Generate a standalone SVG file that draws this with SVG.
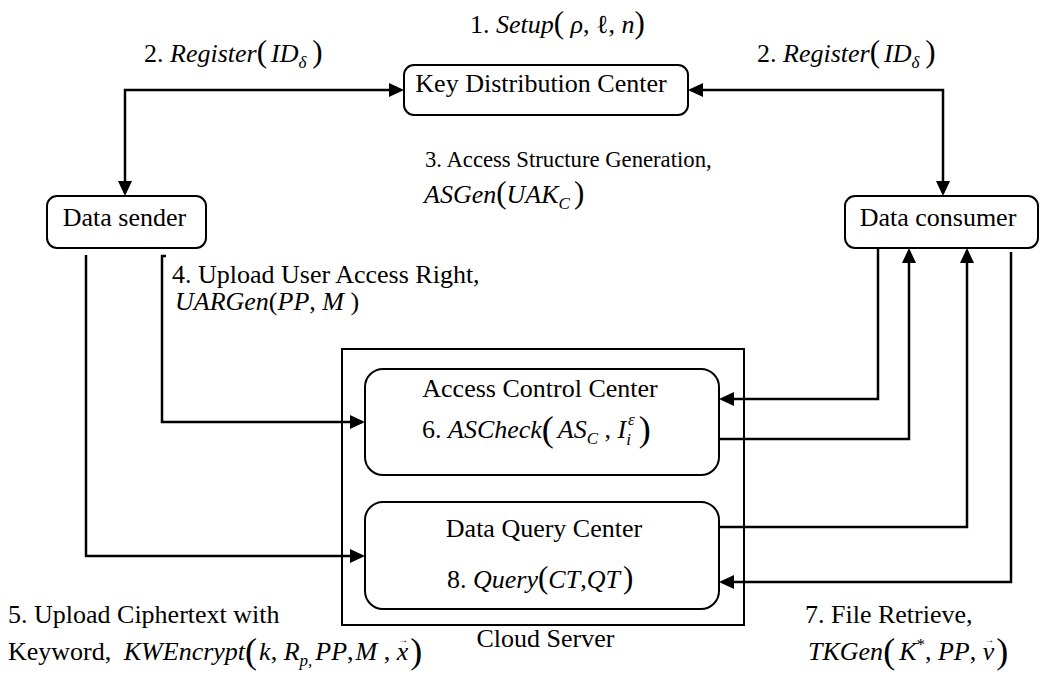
<svg xmlns="http://www.w3.org/2000/svg" width="1040" height="684" viewBox="0 0 1040 684">
<style>
.box{fill:#fff;stroke:#000;stroke-width:2}
.conn{fill:none;stroke:#000;stroke-width:2.5;stroke-linejoin:miter}
.t{font-family:"Liberation Serif","Times New Roman",serif;font-size:26px;fill:#000}
.i{font-style:italic}
.p{font-size:31px;font-style:normal}
.P{font-size:36px;font-style:normal}
.s{font-size:17px;font-style:italic}
.v{font-size:10px;font-style:normal}
</style>
<defs>
<marker id="ah" viewBox="0 0 15 14" refX="12" refY="7" markerWidth="15" markerHeight="14" markerUnits="userSpaceOnUse" orient="auto-start-reverse">
<path d="M0,0 L15,7 L0,14 Z" fill="#000"/>
</marker>
</defs>
<rect width="1040" height="684" fill="#fff"/>

<g id="cloud-server">
<rect x="342" y="349" width="402" height="276" fill="none" stroke="#000" stroke-width="2"/>
<text class="t" x="545.5" y="647" text-anchor="middle">Cloud Server</text>
</g>

<g id="connectors">
<path class="conn" d="M125,193 V90 H401" marker-start="url(#ah)" marker-end="url(#ah)"/>
<path class="conn" d="M943,193 V90 H691" marker-start="url(#ah)" marker-end="url(#ah)"/>
<path class="conn" d="M166,256 H162 V422 H362" marker-end="url(#ah)"/>
<path class="conn" d="M86,255 V556 H362" marker-end="url(#ah)"/>
<path class="conn" d="M878,248 V399 H722" marker-end="url(#ah)"/>
<path class="conn" d="M719,439 H909 V251" marker-end="url(#ah)"/>
<path class="conn" d="M719,527 H967 V251" marker-end="url(#ah)"/>
<path class="conn" d="M1011,252 V582 H722" marker-end="url(#ah)"/>
</g>

<g id="kdc">
<rect class="box" x="404" y="65" width="284" height="50" rx="10"/>
<text class="t" x="541" y="92" text-anchor="middle">Key Distribution Center</text>
</g>

<g id="data-sender">
<rect class="box" x="47" y="196" width="159" height="52" rx="10"/>
<text class="t" x="124.5" y="226" text-anchor="middle">Data sender</text>
</g>

<g id="data-consumer">
<rect class="box" x="845" y="196" width="193" height="52" rx="10"/>
<text class="t" x="938" y="226" text-anchor="middle">Data consumer</text>
</g>

<g id="access-control-center">
<rect class="box" x="365" y="369" width="354" height="106" rx="18"/>
<text class="t" x="540" y="397" text-anchor="middle">Access Control Center</text>
<text class="t" x="422" y="438">6. <tspan class="i">ASCheck</tspan><tspan class="P" dy="3">(</tspan><tspan class="i" dx="4" dy="-3">AS</tspan><tspan class="s" dy="6">C</tspan><tspan dy="-6"> , </tspan><tspan class="i">I</tspan><tspan class="s" dy="7">i</tspan><tspan class="s" dx="-3" dy="-20">ε</tspan><tspan class="P" dx="4" dy="16">)</tspan></text>
</g>

<g id="data-query-center">
<rect class="box" x="365" y="502" width="354" height="107" rx="18"/>
<text class="t" x="544" y="537" text-anchor="middle">Data Query Center</text>
<text class="t" x="447" y="588">8. <tspan class="i">Query</tspan><tspan class="p">(</tspan><tspan class="i">CT</tspan>,<tspan class="i">QT</tspan><tspan class="p" dx="3">)</tspan></text>
</g>

<g id="labels">
<text class="t" x="470" y="33">1. <tspan class="i">Setup</tspan><tspan class="p">(</tspan> <tspan class="i">ρ</tspan>, ℓ, <tspan class="i">n</tspan><tspan class="p">)</tspan></text>
<text class="t" x="144" y="62">2. <tspan class="i">Register</tspan><tspan class="p">(</tspan><tspan class="i" dx="4">ID</tspan><tspan class="s" dy="6">δ</tspan><tspan class="p" dx="6" dy="-6">)</tspan></text>
<text class="t" x="757" y="62">2. <tspan class="i">Register</tspan><tspan class="p">(</tspan><tspan class="i" dx="4">ID</tspan><tspan class="s" dy="6">δ</tspan><tspan class="p" dx="6" dy="-6">)</tspan></text>
<text class="t" x="425" y="167" style="font-size:22.7px">3. Access Structure Generation,</text>
<text class="t" x="424" y="203"><tspan class="i">ASGen</tspan><tspan class="p">(</tspan><tspan class="i">UAK</tspan><tspan class="s" dy="6">C</tspan><tspan class="p" dx="4" dy="-6">)</tspan></text>
<text class="t" x="172" y="283">4. Upload User Access Right,</text>
<text class="t" x="175" y="310"><tspan class="i">UARGen</tspan>(<tspan class="i">PP</tspan>, <tspan class="i">M</tspan> )</text>
<text class="t" x="8" y="623">5. Upload Ciphertext with</text>
<text class="t" x="8" y="660">Keyword, <tspan class="i" dx="6">KWEncrypt</tspan><tspan class="P" dy="3">(</tspan><tspan class="i" dx="2" dy="-3">k</tspan>, <tspan class="i">R</tspan><tspan class="s" dy="6">p,</tspan><tspan class="i" dx="3" dy="-6">PP</tspan>,<tspan class="i" dx="2">M</tspan> , <tspan class="i">x</tspan><tspan class="v" dx="-10" dy="-17">→</tspan><tspan class="P" dx="2" dy="20">)</tspan></text>
<text class="t" x="805" y="623">7. File Retrieve,</text>
<text class="t" x="808" y="660"><tspan class="i">TKGen</tspan><tspan class="P" dy="3">(</tspan><tspan class="i" dx="4" dy="-3">K</tspan><tspan style="font-size:17px" dy="-10">*</tspan><tspan dy="10">, </tspan><tspan class="i">PP</tspan>, <tspan class="i">v</tspan><tspan class="v" dx="-10" dy="-17">→</tspan><tspan class="P" dx="2" dy="20">)</tspan></text>
</g>
</svg>
